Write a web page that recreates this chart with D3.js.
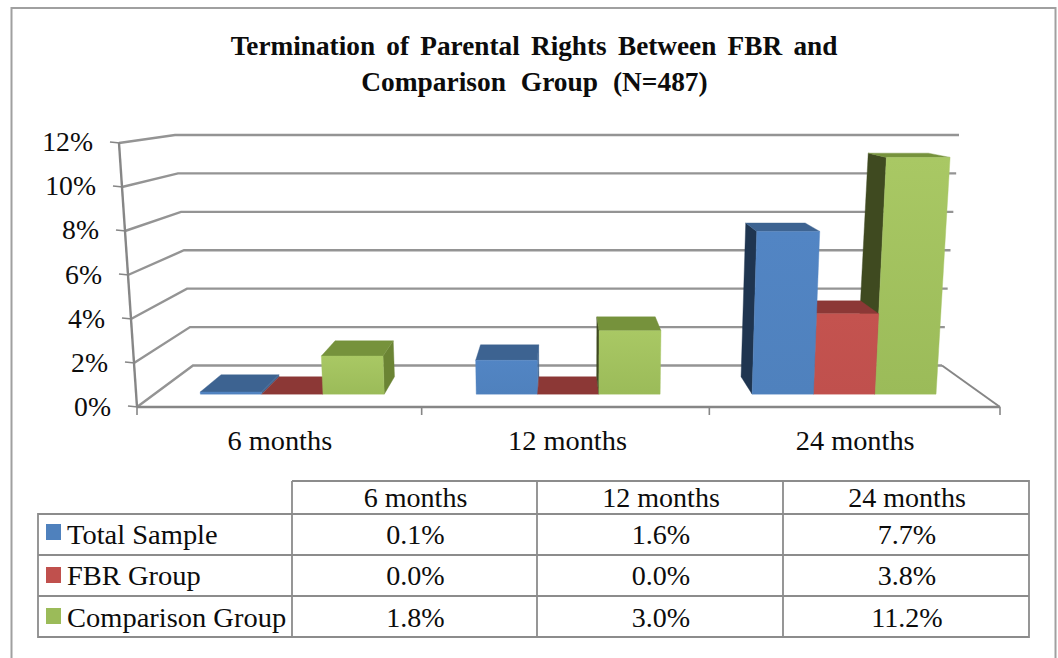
<!DOCTYPE html>
<html><head><meta charset="utf-8">
<style>html,body{margin:0;padding:0;background:#fff}svg{display:block}text{font-family:"Liberation Serif",serif;fill:#0c0c0c}</style>
<script src="https://cdn.jsdelivr.net/npm/d3@7"></script></head><body><svg id="c" width="1058" height="658"></svg>
<script>
const categories=["6 months","12 months","24 months"];
const seriesNames=["Total Sample","FBR Group","Comparison Group"];
const totalSample=[0.1,1.6,7.7];
const fbrGroup=[0.0,0.0,3.8];
const comparisonGroup=[1.8,3.0,11.2];
const yTicks=[0,2,4,6,8,10,12];
const titleLines=["Termination of Parental Rights Between FBR and","Comparison Group (N=487)"];
const seriesValues=[totalSample,fbrGroup,comparisonGroup];
const palette=[
 {front:"#4f81bd",light:"#5285c4",top:"#3d6391",left:"#1f3550",right:"#3d6391"},
 {front:"#c0504d",light:"#c4534f",top:"#8c3836",left:"#5e2624",right:"#8c3836"},
 {front:"#9bbb59",light:"#a9c864",top:"#76923c",left:"#3f4a20",right:"#6b8434"}];
const svg=d3.select("#c");
const defs=svg.append("defs");
palette.forEach((p,i)=>{const g=defs.append("linearGradient").attr("id","g"+i).attr("x1",0).attr("y1",0).attr("x2",0).attr("y2",1);
 g.append("stop").attr("offset",0).attr("stop-color",p.light);g.append("stop").attr("offset",1).attr("stop-color",p.front);});
// frame
svg.append("rect").attr("x",11.5).attr("y",8).attr("width",1044).attr("height",670).attr("fill","none").attr("stroke","#a0a0a0").attr("stroke-width",2);
// perspective scales
const yFront=d3.scaleLinear().domain([0,12]).range([407,143]);
const yBack=d3.scaleLinear().domain([0,12]).range([365.5,135]);
const leftFront=d3.scaleLinear().domain([0,12]).range([137,119]);
const leftBack=d3.scaleLinear().domain([0,12]).range([193,175]);
const rightFront=d3.scaleLinear().domain([0,12]).range([1000,1017]);
const rightBack=d3.scaleLinear().domain([0,12]).range([942,959]);
const lerp=(a,b,t)=>a+(b-a)*t;
function proj(f,v,t){const L=lerp(leftFront(v),leftBack(v),t),R=lerp(rightFront(v),rightBack(v),t);
 return [L+(R-L)*f,lerp(yFront(v),yBack(v),t)];}
const x0=d3.scaleBand().domain(categories).range([0,1]);
const x1=d3.scaleBand().domain(seriesNames).range([0,x0.bandwidth()]).paddingOuter(0.75);
const tFront=0.31,tBack=0.73;
const line=d3.line();
// gridlines
const grid=svg.append("g").attr("fill","none").attr("stroke","#949494").attr("stroke-width",2.4);
yTicks.forEach(v=>{
 grid.append("path").attr("d",line([proj(0,v,0),proj(0,v,1),proj(1,v,1)]));
});
const axisG=svg.append("g").attr("fill","none").attr("stroke","#868686").attr("stroke-width",2.4);
axisG.append("path").attr("d",line([proj(0,12,0),proj(0,0,0)]));
axisG.append("path").attr("d",line([proj(0,0,0),proj(1,0,0)]));
axisG.append("path").attr("stroke-width",2).attr("d",line([proj(1,0,0),proj(1,0,1)]));
yTicks.forEach(v=>{const p=proj(0,v,0);axisG.append("path").attr("stroke-width",1.6).attr("d",line([[p[0]-9,p[1]-1],[p[0]+1,p[1]]]));});
const xTickNudge=[0,-3,-3,0];
xTickNudge.forEach((n,i)=>{const p=proj(i/categories.length,0,0);axisG.append("path").attr("stroke-width",1.6).attr("d",line([[p[0]+n,p[1]],[p[0]+n,p[1]+8]]));});
// bars
const barsData=[];
categories.forEach((c,ci)=>seriesNames.forEach((s,si)=>barsData.push({c,ci,s,si,v:seriesValues[si][ci]})));
barsData.forEach(d=>{d.a=x0(d.c)+x1(d.s);d.b=d.a+x1.bandwidth();});
const center=0.49;
const leftBars=barsData.filter(d=>d.b<center);
const rightBars=barsData.filter(d=>d.b>=center&&d.ci==2).reverse();
const midBars=barsData.filter(d=>d.b>=center&&d.ci!=2);
const barG=svg.append("g");
function poly(pts,fill){barG.append("path").attr("d",line(pts)+"Z").attr("fill",fill).attr("stroke",fill).attr("stroke-width",.4);}
function drawBar(d){
 const p=palette[d.si],v=d.v;
 const fbl=proj(d.a,0,tFront),fbr=proj(d.b,0,tFront),ftl=proj(d.a,v,tFront),ftr=proj(d.b,v,tFront);
 const bbl=proj(d.a,0,tBack),bbr=proj(d.b,0,tBack),btl=proj(d.a,v,tBack),btr=proj(d.b,v,tBack);
 if(btl[0]<ftl[0]) poly([fbl,bbl,btl,ftl],p.left);
 if(btr[0]>ftr[0]) poly([fbr,bbr,btr,ftr],p.right);
 poly([ftl,ftr,btr,btl],p.top);
 poly([fbl,fbr,ftr,ftl],"url(#g"+d.si+")");
}
[...leftBars,...midBars,...rightBars].forEach(drawBar);
const T=svg.append("g");
function label(x,y,s,size,anchor,bold,scaleX,ws){
 const t=T.append("text").attr("text-anchor",anchor||"middle").attr("font-size",size)
  .attr("transform",`translate(${x},${y}) scale(${scaleX||1},1)`).text(s);
 if(bold)t.attr("font-weight","bold");
 if(ws)t.attr("word-spacing",ws);
 return t;}
const yLabelPos=d3.scaleLinear().domain([0,12]).range([416,151]);
const yLabelX=d3.scaleLinear().domain([0,12]).range([111,93]);
yTicks.forEach(v=>label(yLabelX(v),yLabelPos(v),v+"%",28,"end",false,0.99));
categories.forEach((c,i)=>{const p=proj((i+.5)/3,0,0);label(p[0]-1,450,c,27,"middle",false,1.05);});
label(534,55,titleLines[0],27,"middle",true,1.01,4.4);
label(534.5,91,titleLines[1],27,"middle",true,1.015,8);
// table
const colX=[38,292,537,783,1029],rowY=[481,514,555,596,637];
const tb=svg.append("g").attr("stroke","#8c8c8c").attr("stroke-width",1.8).attr("fill","none");
tb.append("path").attr("d",`M${colX[1]},${rowY[0]}H${colX[4]}V${rowY[4]}H${colX[0]}V${rowY[1]}H${colX[4]}`);
tb.append("path").attr("d",`M${colX[1]},${rowY[0]}V${rowY[4]}M${colX[2]},${rowY[0]}V${rowY[4]}M${colX[3]},${rowY[0]}V${rowY[4]}`);
tb.append("path").attr("d",`M${colX[0]},${rowY[2]}H${colX[4]}M${colX[0]},${rowY[3]}H${colX[4]}`);
categories.forEach((c,i)=>label((colX[i+1]+colX[i+2])/2+1,507,c,27,"middle",false,1.04));
seriesNames.forEach((s,si)=>{
 const yb=[544,585,627][si];
 svg.append("rect").attr("x",46).attr("y",[524,567,608][si]).attr("width",15).attr("height",16).attr("fill",palette[si].front);
 label(67,yb,s,27,"start",false,1.055);
 categories.forEach((c,i)=>label((colX[i+1]+colX[i+2])/2+1,yb,seriesValues[si][i].toFixed(1)+"%",27,"middle",false,1.04));
});
</script></body></html>
